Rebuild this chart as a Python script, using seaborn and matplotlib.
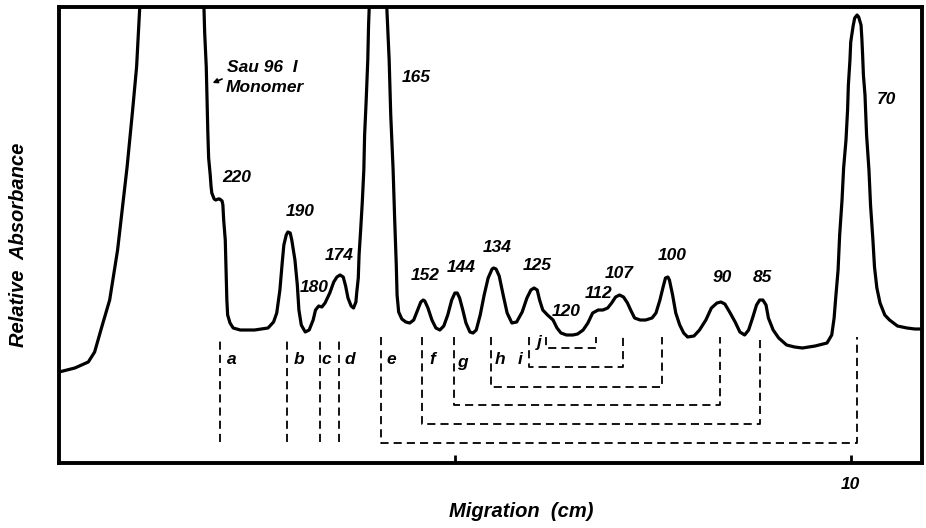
import numpy as np
import pandas as pd
import matplotlib
matplotlib.use('Agg')
import matplotlib.pyplot as plt
import seaborn as sns

# densitometer trace (migration in cm, absorbance in arbitrary units)
migration = [0.00, 0.20, 0.37, 0.45, 0.54, 0.64, 0.74, 0.86, 0.93, 0.98, 1.02, 1.43,
             1.82, 1.83, 1.84, 1.86, 1.87, 1.88, 1.89, 1.91, 1.92, 1.93, 1.96, 1.98,
             2.01, 2.03, 2.06,
             2.07, 2.08, 2.10, 2.11, 2.12, 2.13, 2.16, 2.20, 2.29, 2.47, 2.64, 2.71,
             2.75, 2.79, 2.82, 2.84, 2.87, 2.89, 2.92, 2.94, 2.98, 3.01, 3.03, 3.06,
             3.11, 3.16, 3.21, 3.24, 3.28, 3.32, 3.36, 3.42, 3.47, 3.51, 3.55, 3.59,
             3.62, 3.65, 3.69, 3.72, 3.75, 3.76, 3.78, 3.79, 3.81, 3.83, 3.85, 3.86,
             3.88, 3.90, 3.91, 3.92,
             4.03, 4.14, 4.17, 4.19, 4.22, 4.24, 4.26, 4.27, 4.29, 4.33, 4.38, 4.43,
             4.48, 4.53, 4.57, 4.60, 4.62, 4.66, 4.71, 4.76, 4.81, 4.86, 4.91, 4.96,
             5.00, 5.03, 5.06, 5.10, 5.14, 5.19, 5.23, 5.27, 5.32, 5.37, 5.42, 5.47,
             5.49, 5.52, 5.56, 5.61, 5.66, 5.72, 5.78, 5.85, 5.91, 5.96, 6.00, 6.04,
             6.07, 6.11, 6.17, 6.24, 6.29, 6.34, 6.41, 6.49, 6.55, 6.62, 6.68, 6.74,
             6.81, 6.87, 6.93, 6.98, 7.03, 7.08, 7.13, 7.18, 7.22, 7.27, 7.34, 7.41,
             7.49, 7.54, 7.59, 7.63, 7.66, 7.69, 7.71, 7.75, 7.79, 7.84, 7.89, 7.94,
             8.02, 8.09, 8.17, 8.24, 8.31, 8.36, 8.41, 8.47, 8.54, 8.60, 8.66, 8.71,
             8.76, 8.81, 8.85, 8.89, 8.93, 8.96, 9.02, 9.09, 9.19, 9.29, 9.39, 9.55,
             9.70, 9.76, 9.79, 9.81, 9.84, 9.86, 9.89, 9.91, 9.94, 9.96, 9.97, 9.99,
             10.00, 10.03, 10.05, 10.08, 10.10, 10.13, 10.14, 10.15, 10.16, 10.18, 10.19,
             10.20, 10.23, 10.25, 10.28, 10.30, 10.33, 10.37, 10.43,
             10.49, 10.59, 10.71, 10.81, 10.90]
absorbance = [91, 95, 101, 111, 136, 163, 213, 296, 353, 396, 456, 763,
              473, 458, 430, 396, 363, 330, 305, 288, 277, 270, 264, 263,
              264, 264, 262,
              258, 243, 223, 193, 163, 148, 140, 135, 133, 133, 135, 141,
              150, 173, 201, 218, 228, 231, 230, 223, 203, 178, 153, 138,
              131, 133, 143, 153, 157, 156, 160, 170, 181, 186, 188, 186,
              177, 165, 157, 155, 161, 170, 185, 208, 233, 260, 293, 328,
              363, 403, 438, 458,
              763, 456, 403, 348, 293, 243, 198, 168, 151, 144, 141, 140,
              143, 153, 161, 163, 162, 155, 143, 135, 133, 137, 148, 163,
              170, 170, 165, 153, 140, 131, 130, 133, 148, 168, 185, 194,
              195, 194, 187, 168, 150, 140, 141, 151, 165, 173, 175, 173,
              163, 153, 148, 143, 135, 130, 128, 128, 129, 133, 140, 150,
              153, 153, 155, 160, 166, 168, 166, 160, 153, 145, 143, 143,
              145, 150, 163, 176, 185, 186, 183, 168, 150, 138, 130, 126,
              127, 133, 143, 155, 160, 161, 159, 151, 141, 131, 128, 133,
              145, 158, 163, 163, 158, 145, 133, 125, 118, 116, 115, 117,
              120, 128, 145, 165, 193, 228, 263, 295, 323, 353, 378, 403,
              421, 437, 445, 448, 446, 438, 425, 408, 388, 368, 348,
              328, 293, 258, 223, 196, 175, 160, 148,
              143, 137, 135, 134, 134]

# band labels (size in bp)
peak_labels = ['165', '220', '190', '180', '174', '152', '144', '134', '125',
               '120', '112', '107', '100', '90', '85', '70']
peak_x = [4.51, 2.25, 3.04, 3.22, 3.54, 4.62, 5.08, 5.54, 6.04,
          6.41, 6.82, 7.08, 7.74, 8.38, 8.89, 10.45]
peak_y = [385, 286, 252, 176, 208, 188, 195, 216, 197,
          151, 170, 190, 208, 185, 186, 363]

# single cut-off lines a-d
single_labels = ['a', 'b', 'c', 'd']
single_x = [2.03, 2.88, 3.30, 3.54]
single_label_x = [2.18, 3.03, 3.37, 3.67]

# paired brackets e-j
bracket_labels = ['e', 'f', 'g', 'h', 'i', 'j']
bracket_left = [4.07, 4.58, 4.99, 5.45, 5.93, 6.15]
bracket_right = [10.08, 8.85, 8.35, 7.61, 7.12, 6.78]
bracket_bottom = [20, 39, 58, 76, 96, 115]
bracket_label_x = [4.20, 4.71, 5.10, 5.57, 5.83, 6.07]
bracket_label_y = [103, 103, 101, 103, 103, 120]
line_top = 126

df = pd.DataFrame({'Migration': migration, 'Absorbance': absorbance})

sns.set_style('white')
plt.rcParams['font.family'] = ['Liberation Sans', 'DejaVu Sans']
plt.rcParams['text.color'] = 'black'
plt.rcParams['axes.labelcolor'] = 'black'
plt.rcParams['xtick.color'] = 'black'

fig = plt.figure(figsize=(9.26, 5.28), dpi=100)
ax = fig.add_axes([59 / 926, 65 / 528, 863 / 926, 456 / 528])

sns.lineplot(data=df, x='Migration', y='Absorbance', sort=False, estimator=None,
             color='black', linewidth=2.3, ax=ax)

dash_kw = dict(color='black', linewidth=1.3, linestyle=(0, (4.5, 2.8)))
ax.vlines(single_x, 21, line_top, **dash_kw)
for xl, xr, yb in zip(bracket_left, bracket_right, bracket_bottom):
    ax.plot([xl, xl, xr, xr], [line_top, yb, yb, line_top], **dash_kw)

txt_kw = dict(fontsize=12.5, fontstyle='italic', fontweight='bold', color='black')
for lab, x, y in zip(peak_labels, peak_x, peak_y):
    ax.text(x, y, lab, ha='center', va='center', **txt_kw)
for lab, x in zip(single_labels, single_label_x):
    ax.text(x, 103, lab, ha='center', va='center', **txt_kw)
for lab, x, y in zip(bracket_labels, bracket_label_x, bracket_label_y):
    ax.text(x, y, lab, ha='center', va='center', **txt_kw)

ax.text(2.12, 396, 'Sau 96  I', ha='left', va='center', **txt_kw)
ax.text(2.10, 375, 'Monomer', ha='left', va='center', **txt_kw)
ax.annotate('', xy=(1.94, 380), xytext=(2.06, 384),
            arrowprops=dict(arrowstyle='-|>', color='black', lw=1.2,
                            mutation_scale=7, shrinkA=0, shrinkB=0))

ax.set_xlim(0, 10.9)
ax.set_ylim(0, 456)
ax.set_xticks([5, 10])
ax.set_xticklabels(['', '10'], fontsize=12.5, fontstyle='italic', fontweight='bold')
ax.set_yticks([])
ax.tick_params(axis='x', direction='in', length=6, width=2, pad=10, bottom=True)

for s in ax.spines.values():
    s.set_visible(True)
    s.set_color('black')
    s.set_linewidth(2.8)

ax.set_xlabel('Migration  (cm)', fontsize=14.5, fontstyle='italic', fontweight='bold')
ax.set_ylabel('Relative  Absorbance', fontsize=14.5, fontstyle='italic', fontweight='bold')
ax.xaxis.set_label_coords(0.536, -0.085)
ax.yaxis.set_label_coords(-0.036, 0.478)

fig.savefig('out.png', dpi=100, facecolor='white')
plt.close(fig)
